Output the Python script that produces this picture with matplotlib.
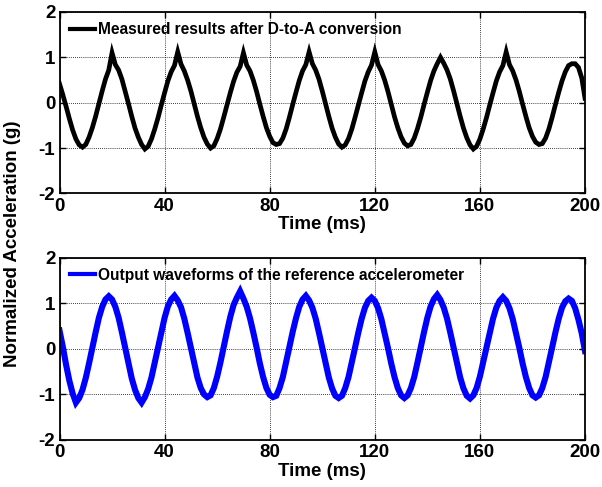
import numpy as np
import matplotlib
matplotlib.use("Agg")
import matplotlib.pyplot as plt

# Sample times (ms), 1.25 ms spacing
time_ms = np.arange(161) * 1.25

# Normalized acceleration after D-to-A conversion (g)
measured = [
    0.42, 0.18, -0.08, -0.35, -0.60, -0.80, -0.93, -0.98, -0.92, -0.76,
    -0.55, -0.30, -0.02, 0.26, 0.52, 0.72, 1.10, 0.84, 0.72, 0.52,
    0.25, -0.02, -0.30, -0.56, -0.76, -0.92, -1.02, -0.96, -0.80, -0.58,
    -0.33, -0.05, 0.22, 0.48, 0.68, 0.82, 1.12, 0.85, 0.70, 0.50,
    0.26, -0.02, -0.30, -0.55, -0.76, -0.91, -1.00, -0.95, -0.79, -0.58,
    -0.32, -0.05, 0.22, 0.47, 0.67, 0.80, 1.10, 0.83, 0.70, 0.50,
    0.25, -0.03, -0.30, -0.55, -0.74, -0.88, -0.92, -0.90, -0.78, -0.58,
    -0.32, -0.04, 0.23, 0.49, 0.70, 0.84, 1.12, 0.86, 0.72, 0.52,
    0.26, -0.02, -0.30, -0.56, -0.76, -0.91, -0.98, -0.93, -0.79, -0.58,
    -0.32, -0.05, 0.22, 0.48, 0.68, 0.83, 1.12, 0.84, 0.70, 0.50,
    0.25, -0.03, -0.31, -0.55, -0.75, -0.89, -0.95, -0.92, -0.78, -0.57,
    -0.32, -0.04, 0.23, 0.49, 0.70, 0.86, 1.00, 0.87, 0.72, 0.52,
    0.26, -0.02, -0.30, -0.56, -0.77, -0.93, -1.02, -0.96, -0.80, -0.58,
    -0.33, -0.05, 0.22, 0.48, 0.68, 0.82, 1.12, 0.84, 0.70, 0.50,
    0.25, -0.03, -0.30, -0.55, -0.74, -0.87, -0.92, -0.90, -0.78, -0.58,
    -0.32, -0.04, 0.23, 0.48, 0.68, 0.82, 0.86, 0.86, 0.78, 0.55,
    0.10,
]

# Output of the reference accelerometer (g)
reference = [
    0.40, 0.05, -0.35, -0.70, -0.98, -1.18, -1.08, -0.90, -0.64, -0.32,
    0.02, 0.36, 0.68, 0.92, 1.08, 1.15, 1.08, 0.92, 0.68, 0.36,
    0.02, -0.33, -0.65, -0.90, -1.08, -1.18, -1.06, -0.88, -0.63, -0.30,
    0.03, 0.37, 0.68, 0.93, 1.08, 1.16, 1.06, 0.91, 0.66, 0.35,
    0.02, -0.32, -0.63, -0.86, -1.00, -1.06, -1.02, -0.86, -0.61, -0.30,
    0.04, 0.38, 0.70, 0.96, 1.12, 1.26, 1.10, 0.92, 0.67, 0.36,
    0.03, -0.32, -0.62, -0.86, -1.01, -1.06, -1.03, -0.86, -0.62, -0.29,
    0.03, 0.37, 0.67, 0.92, 1.08, 1.16, 1.06, 0.90, 0.66, 0.35,
    0.02, -0.32, -0.63, -0.87, -1.03, -1.08, -1.03, -0.86, -0.62, -0.30,
    0.03, 0.36, 0.66, 0.90, 1.05, 1.12, 1.05, 0.89, 0.65, 0.34,
    0.02, -0.32, -0.62, -0.86, -1.02, -1.08, -1.02, -0.86, -0.62, -0.30,
    0.04, 0.37, 0.68, 0.93, 1.09, 1.18, 1.07, 0.90, 0.66, 0.35,
    0.02, -0.32, -0.63, -0.87, -1.03, -1.09, -1.02, -0.86, -0.61, -0.29,
    0.03, 0.36, 0.66, 0.90, 1.05, 1.13, 1.05, 0.89, 0.65, 0.34,
    0.02, -0.32, -0.62, -0.86, -1.02, -1.07, -1.02, -0.86, -0.62, -0.30,
    0.03, 0.36, 0.66, 0.90, 1.04, 1.10, 1.05, 0.89, 0.64, 0.34,
    -0.05,
]

x_ticks = [0, 40, 80, 120, 160, 200]
y_ticks = [-2, -1, 0, 1, 2]

legend_top = "Measured results after D-to-A conversion"
legend_bottom = "Output waveforms of the reference accelerometer"
x_label = "Time (ms)"
y_label = "Normalized Acceleration (g)"

plt.rcParams["font.family"] = ["Liberation Sans", "DejaVu Sans"]
plt.rcParams["font.weight"] = "bold"
plt.rcParams["axes.unicode_minus"] = False

W, H = 602, 487
fig = plt.figure(figsize=(W / 100, H / 100), dpi=100)

ax_top = fig.add_axes([59.5 / W, 1 - 193.5 / H, 525.5 / W, 181.5 / H])
ax_bot = fig.add_axes([59.5 / W, 1 - 440 / H, 525.5 / W, 182.5 / H])

panels = [
    (ax_top, measured, "black", 3.4, legend_top),
    (ax_bot, reference, "#0000ff", 4.4, legend_bottom),
]

for ax, series, color, lw, label in panels:
    ax.plot(time_ms, series, color=color, lw=lw, solid_joinstyle="miter",
            label=label)
    ax.set_xlim(0, 200)
    ax.set_ylim(-2, 2)
    ax.set_xticks(x_ticks)
    ax.set_yticks(y_ticks)
    ax.grid(True, color="black", linestyle=(0, (1, 1.5)), linewidth=0.6)
    ax.tick_params(direction="in", length=4, width=1.0, labelsize=13.5,
                   top=True, right=True, pad=3)
    for lab in ax.get_xticklabels() + ax.get_yticklabels():
        lab.set_fontweight("bold")
    for spine in ax.spines.values():
        spine.set_linewidth(1.3)
    ax.set_xlabel(x_label, fontsize=13.5, fontweight="bold", labelpad=1)
    for handle_line in ax.legend(loc="upper left", frameon=False,
                                 handlelength=1.6, handletextpad=0.25,
                                 borderaxespad=0.25,
                                 prop={"weight": "bold", "size": 11.2}
                                 ).get_lines():
        handle_line.set_linewidth(3.0)

fig.text(13 / W, 0.5, y_label, rotation=90, ha="center", va="center",
         fontsize=13.5, fontweight="bold")

fig.savefig("out.png", dpi=100)
